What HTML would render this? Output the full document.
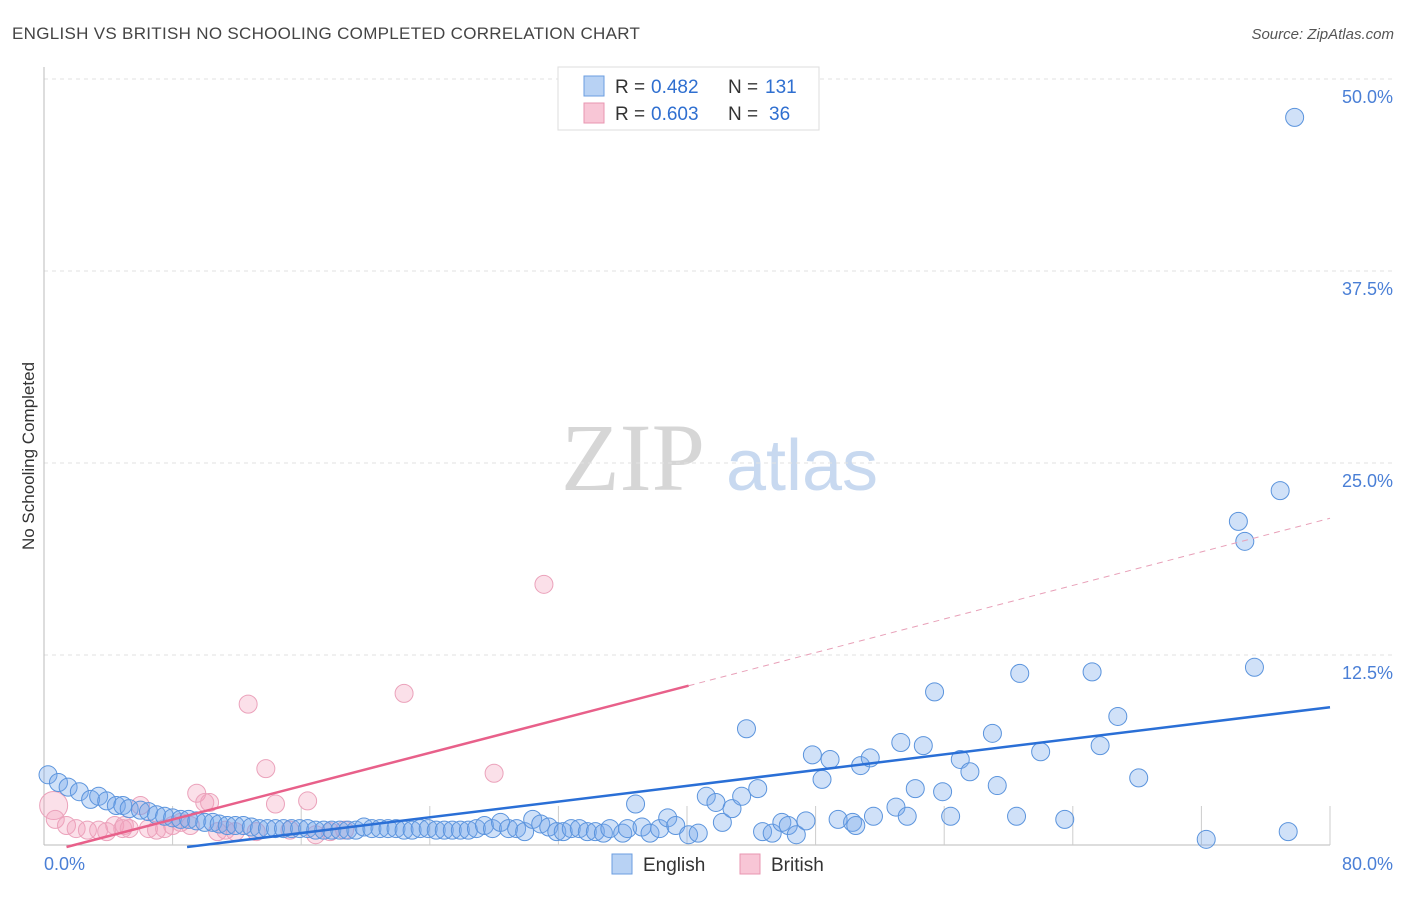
<!DOCTYPE html>
<html><head><meta charset="utf-8"><style>
body{margin:0;background:#fff;font-family:"Liberation Sans",sans-serif;}
</style></head><body>
<svg width="1406" height="892" xmlns="http://www.w3.org/2000/svg" font-family="Liberation Sans, sans-serif">
<text x="12" y="39" font-size="17" fill="#444" letter-spacing="0.3">ENGLISH VS BRITISH NO SCHOOLING COMPLETED CORRELATION CHART</text>
<text x="1394" y="39" font-size="15" fill="#555" font-style="italic" text-anchor="end">Source: ZipAtlas.com</text>
<g>
<text x="633" y="490" font-size="96" fill="#d6d6d6" style="font-family:'Liberation Serif',serif" text-anchor="middle">ZIP</text>
<text x="802" y="490" font-size="72" fill="#c8d9f0" text-anchor="middle">atlas</text>
</g>
<g id="grid"></g>
<line x1="44" y1="67" x2="44" y2="845" stroke="#bbb"/>
<line x1="44" y1="845" x2="1330" y2="845" stroke="#bbb"/>
<g id="xticks"></g>
<text transform="translate(34,456) rotate(-90)" font-size="17" fill="#333" text-anchor="middle">No Schooling Completed</text>
<text x="44" y="870" font-size="18" fill="#4a7fd6">0.0%</text>
<text x="1393" y="870" font-size="18" fill="#4a7fd6" text-anchor="end">80.0%</text>
<g id="british"></g>
<g id="english"></g>
<g id="trends"></g>
<g>
<rect x="558" y="67" width="261" height="63" fill="#fff" stroke="#ddd"/>
<rect x="584" y="76" width="20" height="20" fill="#b8d2f4" stroke="#6b9ee0"/>
<rect x="584" y="103" width="20" height="20" fill="#f8c6d6" stroke="#e896b0"/>
<text x="615" y="93" font-size="19" fill="#333">R =</text>
<text x="651" y="93" font-size="19" fill="#2f6fd0">0.482</text>
<text x="728" y="93" font-size="19" fill="#333">N =</text>
<text x="765" y="93" font-size="19" fill="#2f6fd0">131</text>
<text x="615" y="120" font-size="19" fill="#333">R =</text>
<text x="651" y="120" font-size="19" fill="#2f6fd0">0.603</text>
<text x="728" y="120" font-size="19" fill="#333">N =</text>
<text x="769" y="120" font-size="19" fill="#2f6fd0">36</text>
</g>
<g>
<rect x="612" y="854" width="20" height="20" fill="#b8d2f4" stroke="#6b9ee0"/>
<text x="643" y="871" font-size="19" fill="#333">English</text>
<rect x="740" y="854" width="20" height="20" fill="#f8c6d6" stroke="#e896b0"/>
<text x="771" y="871" font-size="19" fill="#333">British</text>
</g>
</svg>
<script>
const yTicks=[12.5,25,37.5,50];
const yTickLabels=["12.5%","25.0%","37.5%","50.0%"];
const xTickVals=[8,16,24,32,40,48,56,64,72,80];
const engX=[0.25,0.9,1.5,2.2,2.9,3.4,3.9,4.5,4.9,5.3,6.0,6.5,7.0,7.5,8.0,8.5,9.0,9.5,10.0,10.5,10.9,11.4,11.9,12.4,12.9,13.4,13.9,14.4,14.9,15.4,15.9,16.4,16.9,17.4,17.9,18.4,18.9,19.4,19.9,20.4,20.9,21.4,21.9,22.4,22.9,23.4,23.9,24.4,24.9,25.4,25.9,26.4,26.9,27.4,27.9,28.4,28.9,29.4,29.9,30.4,30.9,31.4,31.9,32.3,32.8,33.3,33.8,34.3,34.8,35.2,36.0,36.3,36.8,37.2,37.7,38.3,38.8,39.3,40.1,40.7,41.2,41.8,42.2,42.8,43.4,43.7,44.4,44.7,45.3,45.9,46.3,46.8,47.4,47.8,48.4,48.9,49.4,50.3,50.5,50.8,51.4,51.6,53.0,53.3,53.7,54.2,54.7,55.4,55.9,56.4,57.0,57.6,59.0,59.3,60.5,60.7,62.0,63.5,65.2,65.7,66.8,68.1,72.3,74.3,74.7,75.3,76.9,77.4,77.8];
const engY=[4.7,4.2,3.9,3.6,3.1,3.3,3.0,2.7,2.7,2.5,2.4,2.3,2.1,2.0,1.9,1.8,1.8,1.7,1.6,1.6,1.5,1.4,1.4,1.4,1.3,1.2,1.2,1.2,1.2,1.2,1.2,1.2,1.1,1.1,1.1,1.1,1.1,1.1,1.3,1.2,1.2,1.2,1.2,1.1,1.1,1.2,1.2,1.1,1.1,1.1,1.1,1.1,1.2,1.4,1.2,1.6,1.2,1.2,1.0,1.8,1.5,1.3,1.0,1.0,1.2,1.2,1.0,1.0,0.9,1.2,0.9,1.2,2.8,1.3,0.9,1.2,1.9,1.4,0.8,0.9,3.3,2.9,1.6,2.5,3.3,7.7,3.8,1.0,0.9,1.6,1.4,0.8,1.7,6.0,4.4,5.7,1.8,1.6,1.4,5.3,5.8,2.0,2.6,6.8,2.0,3.8,6.6,10.1,3.6,2.0,5.7,4.9,7.4,4.0,2.0,11.3,6.2,1.8,11.4,6.6,8.5,4.5,0.5,21.2,19.9,11.7,23.2,1.0,47.5];
const briX=[0.6,0.7,1.4,2.0,2.7,3.4,3.9,4.4,4.9,5.0,5.3,6.0,6.5,7.0,7.5,8.0,8.5,9.1,9.5,10.0,10.3,10.8,11.3,11.9,12.7,13.2,13.8,14.4,15.3,16.4,16.9,17.8,18.7,22.4,28.0,31.1];
const briY=[2.7,1.8,1.4,1.2,1.1,1.1,1.0,1.4,1.2,1.4,1.2,2.7,1.2,1.1,1.2,1.4,1.6,1.4,3.5,2.9,2.9,1.0,1.1,1.0,9.3,1.0,5.1,2.8,1.1,3.0,0.8,1.0,1.1,10.0,4.8,17.1];
const briR=[14,9,9,9,9,9,9,9,9,9,9,9,9,9,9,9,9,9,9,9,9,9,9,9,9,9,9,9,9,9,9,9,9,9,9,9];
const engTrend=[8.9,0,80,9.1];
const briTrend=[1.4,0,40.1,10.5,80,21.4];
const NS="http://www.w3.org/2000/svg";
const X=v=>44+v*16.075, Y=v=>847-v*15.36;
function mk(t,a,p){const e=document.createElementNS(NS,t);for(const k in a)e.setAttribute(k,a[k]);p.appendChild(e);return e;}
const grid=document.getElementById('grid');
yTicks.forEach((v,i)=>{
 const l=mk('line',{x1:44,x2:1393,y1:Y(v),y2:Y(v),stroke:'#e2e2e2','stroke-dasharray':'4,4'},grid);
 
 
 const t=mk('text',{x:1393,y:Y(v)+24,'font-size':18,fill:'#4a7fd6','text-anchor':'end'},grid);
 t.textContent=yTickLabels[i];
 
 
});
const xt=document.getElementById('xticks');
xTickVals.forEach(v=>{
 const l=mk('line',{x1:X(v),x2:X(v),y1:806,y2:845,stroke:'#ccc'},xt);
 
 
});
const bg=document.getElementById('british');
briX.forEach((v,i)=>{
 const c=mk('circle',{cx:X(v),cy:Y(briY[i]),r:briR[i],fill:'rgba(244,160,188,0.32)',stroke:'#eba2bb','stroke-width':1},bg);
 
 
});
const eg=document.getElementById('english');
engX.forEach((v,i)=>{
 const c=mk('circle',{cx:X(v),cy:Y(engY[i]),r:9,fill:'rgba(120,170,235,0.35)',stroke:'#5b94dd','stroke-width':1},eg);
 
 
});
const tg=document.getElementById('trends');
let l=mk('line',{x1:X(engTrend[0]),y1:Y(engTrend[1]),x2:X(engTrend[2]),y2:Y(engTrend[3]),stroke:'#2a6fd6','stroke-width':2.5},tg);


l=mk('line',{x1:X(briTrend[0]),y1:Y(briTrend[1]),x2:X(briTrend[2]),y2:Y(briTrend[3]),stroke:'#e8608a','stroke-width':2.5},tg);


l=mk('line',{x1:X(briTrend[2]),y1:Y(briTrend[3]),x2:X(briTrend[4]),y2:Y(briTrend[5]),stroke:'#e8a0b8','stroke-width':1,'stroke-dasharray':'6,5'},tg);


</script>
</body></html>
